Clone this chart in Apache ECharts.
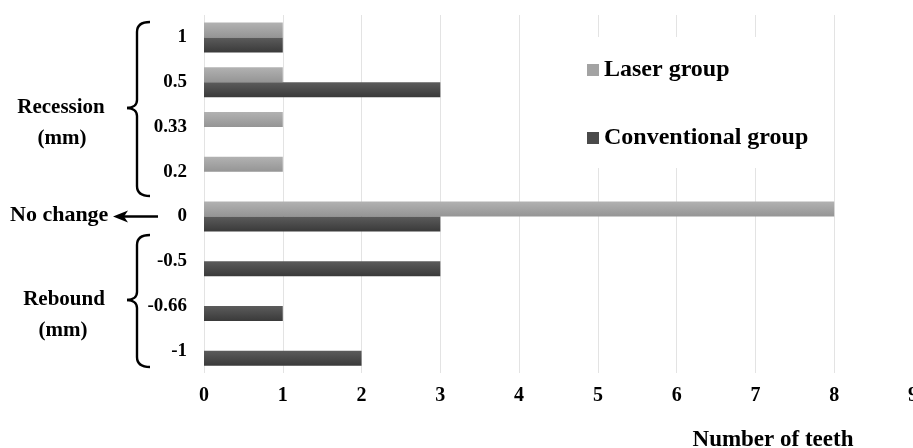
<!DOCTYPE html>
<html>
<head>
<meta charset="utf-8">
<script src="https://cdn.jsdelivr.net/npm/echarts@6/dist/echarts.min.js"></script>
<style>html,body{margin:0;padding:0;background:#fff}#c{width:913px;height:448px}</style>
</head>
<body>
<div id="c"></div>
<script>
const categories = ['1', '0.5', '0.33', '0.2', '0', '-0.5', '-0.66', '-1'];
const laserGroup = [1, 1, 1, 1, 8, 0, 0, 0];
const conventionalGroup = [1, 3, 0, 0, 3, 3, 1, 2];
const xTicks = [0, 1, 2, 3, 4, 5, 6, 7, 8, 9];

const FONT = '"Liberation Serif", "Times New Roman", serif';
const chart = echarts.init(document.getElementById('c'), null, {renderer: 'canvas'});

function grad(a, b) {
  return {type: 'linear', x: 0, y: 0, x2: 0, y2: 1, colorStops: [{offset: 0, color: a}, {offset: 1, color: b}]};
}

const braceStyle = {stroke: '#000', lineWidth: 2.4, fill: null};
function bez(x1, y1, c1x, c1y, c2x, c2y, x2, y2) {
  return {type: 'bezierCurve', shape: {x1, y1, cpx1: c1x, cpy1: c1y, cpx2: c2x, cpy2: c2y, x2, y2}, style: braceStyle};
}
function ln(x1, y1, x2, y2) {
  return {type: 'line', shape: {x1, y1, x2, y2}, style: braceStyle};
}
function brace(xEnd, xBar, xTip, top, mid, bot) {
  return [
    bez(xEnd, top, xBar + 4, top, xBar, top + 3, xBar, top + 10),
    ln(xBar, top + 10, xBar, mid - 8),
    bez(xBar, mid - 8, xBar, mid - 3, xBar - 4, mid, xTip, mid),
    bez(xTip, mid, xBar - 4, mid, xBar, mid + 3, xBar, mid + 8),
    ln(xBar, mid + 8, xBar, bot - 10),
    bez(xBar, bot - 10, xBar, bot - 3, xBar + 4, bot, xEnd, bot)
  ];
}

chart.setOption({
  animation: false,
  backgroundColor: '#fff',
  grid: {left: 204, right: 0, top: 15, bottom: 75, containLabel: false, outerBoundsMode: 'none'},
  legend: {
    orient: 'vertical',
    left: 530, top: 37,
    padding: [21, 20, 18, 57],
    backgroundColor: '#fff',
    itemWidth: 12, itemHeight: 12,
    itemGap: 44,
    icon: 'rect',
    textStyle: {fontFamily: FONT, fontWeight: 'bold', fontSize: 24, lineHeight: 22, color: '#000'},
    data: [
      {name: 'Laser group', itemStyle: {color: '#a3a3a3'}},
      {name: 'Conventional group', itemStyle: {color: '#4a4a4a'}}
    ]
  },
  xAxis: {
    type: 'value', min: 0, max: 9, interval: 1,
    axisLine: {show: false}, axisTick: {show: false},
    splitLine: {lineStyle: {color: '#e3e3e3', width: 1}},
    axisLabel: {
      fontFamily: FONT, fontWeight: 'bold', fontSize: 20, color: '#000', margin: 13,
      showMaxLabel: true,
      formatter: v => xTicks.includes(v) ? String(v) : ''
    }
  },
  yAxis: {
    type: 'category', inverse: true, data: categories,
    axisLine: {show: false}, axisTick: {show: false}, splitLine: {show: false},
    axisLabel: {fontFamily: FONT, fontWeight: 'bold', fontSize: 19, color: '#000', margin: 17}
  },
  series: [
    {
      name: 'Laser group', type: 'bar', data: laserGroup,
      barWidth: 15, barGap: '0%',
      itemStyle: {color: grad('#b2b2b2', '#959595')}
    },
    {
      name: 'Conventional group', type: 'bar', data: conventionalGroup,
      barWidth: 15, barGap: '0%',
      itemStyle: {color: grad('#5c5c5c', '#3a3a3a')}
    }
  ],
  graphic: [].concat(
    brace(150, 137, 127, 22, 108, 196),
    brace(150, 137, 127, 235, 300, 367),
    [
      {type: 'line', shape: {x1: 120, y1: 216.5, x2: 158, y2: 216.5}, style: {stroke: '#000', lineWidth: 2.6}},
      {type: 'polygon', shape: {points: [[113, 216.5], [128, 210.5], [124, 216.5], [128, 222.5]]}, style: {fill: '#000'}},
      {type: 'text', style: {text: 'Recession', x: 61, y: 108, align: 'center', verticalAlign: 'middle', font: 'bold 21px ' + FONT, fill: '#000'}},
      {type: 'text', style: {text: '(mm)', x: 62, y: 139, align: 'center', verticalAlign: 'middle', font: 'bold 21px ' + FONT, fill: '#000'}},
      {type: 'text', style: {text: 'No change', x: 10, y: 215, align: 'left', verticalAlign: 'middle', font: 'bold 22px ' + FONT, fill: '#000'}},
      {type: 'text', style: {text: 'Rebound', x: 64, y: 300, align: 'center', verticalAlign: 'middle', font: 'bold 21px ' + FONT, fill: '#000'}},
      {type: 'text', style: {text: '(mm)', x: 63, y: 331, align: 'center', verticalAlign: 'middle', font: 'bold 21px ' + FONT, fill: '#000'}},
      {type: 'text', style: {text: 'Number of teeth', x: 773, y: 440, align: 'center', verticalAlign: 'middle', font: 'bold 23px ' + FONT, fill: '#000'}}
    ]
  )
});
</script>
</body>
</html>
